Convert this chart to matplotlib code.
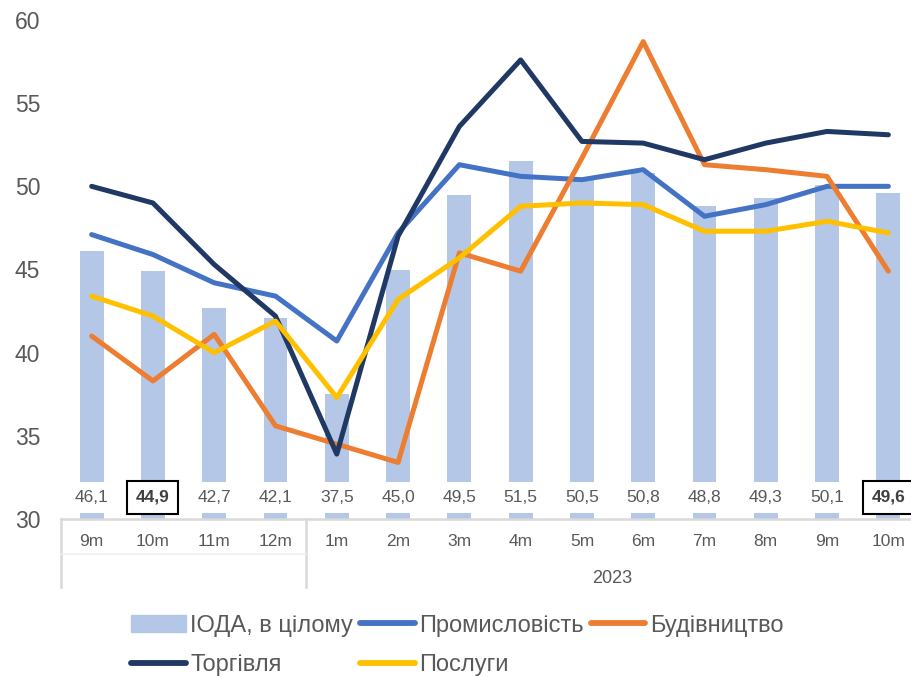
import matplotlib
matplotlib.use("Agg")
import matplotlib.pyplot as plt
from matplotlib.lines import Line2D
from matplotlib.patches import Patch
import matplotlib.transforms as mtransforms

plt.rcParams['font.family'] = ['Liberation Sans', 'DejaVu Sans']

# data
months = ['9m', '10m', '11m', '12m', '1m', '2m', '3m', '4m', '5m', '6m', '7m', '8m', '9m', '10m']
year_label = '2023'
ioda = [46.1, 44.9, 42.7, 42.1, 37.5, 45.0, 49.5, 51.5, 50.5, 50.8, 48.8, 49.3, 50.1, 49.6]
industry = [47.1, 45.9, 44.2, 43.4, 40.7, 47.2, 51.3, 50.6, 50.4, 51.0, 48.2, 48.9, 50.0, 50.0]
construction = [41.0, 38.3, 41.1, 35.6, 34.5, 33.4, 46.0, 44.9, 51.7, 58.7, 51.3, 51.0, 50.6, 44.9]
trade = [50.0, 49.0, 45.3, 42.2, 33.9, 47.0, 53.6, 57.6, 52.7, 52.6, 51.6, 52.6, 53.3, 53.1]
services = [43.4, 42.2, 40.0, 41.9, 37.3, 43.2, 45.7, 48.8, 49.0, 48.9, 47.3, 47.3, 47.9, 47.2]
highlight = [1, 13]

grey = '#595959'
fig = plt.figure(figsize=(9.12, 6.77), dpi=100)
ax = fig.add_axes([61 / 912, 1 - 519 / 677, 858 / 912, 499 / 677])

x = list(range(len(months)))
ax.bar(x, ioda, width=0.39, color='#B4C7E7', zorder=1)

lw = 3.6
ax.plot(x, industry, color='#4472C4', lw=lw, solid_joinstyle='round', solid_capstyle='round', zorder=3)
ax.plot(x, construction, color='#ED7D31', lw=lw, solid_joinstyle='round', solid_capstyle='round', zorder=3)
ax.plot(x, trade, color='#203864', lw=lw, solid_joinstyle='round', solid_capstyle='round', zorder=3)
ax.plot(x, services, color='#FFC000', lw=lw, solid_joinstyle='round', solid_capstyle='round', zorder=3)

# value labels at the bottom of the bars
for i, v in enumerate(ioda):
    txt = f'{v:.1f}'.replace('.', ',')
    if i in highlight:
        ax.text(i, 31.3, txt, ha='center', va='center', fontsize=12.5, color='#404040',
                fontweight='bold', zorder=5,
                bbox=dict(boxstyle='square,pad=0.5', fc='white', ec='black', lw=1.5))
    else:
        ax.text(i, 31.3, txt, ha='center', va='center', fontsize=12.5, color=grey, zorder=5,
                bbox=dict(boxstyle='square,pad=0.45', fc='white', ec='none'))

ax.set_xlim(-0.5, 13.5)
ax.set_ylim(30, 60)
ax.set_yticks(range(30, 61, 5))
ax.tick_params(axis='y', length=0, pad=15, labelsize=16.5, labelcolor=grey)
ax.set_xticks(x)
ax.set_xticklabels(months)
ax.tick_params(axis='x', length=0, pad=11, labelsize=12.5, labelcolor=grey)

for s in ['top', 'right', 'left']:
    ax.spines[s].set_visible(False)
ax.spines['bottom'].set_color('#D9D9D9')
ax.spines['bottom'].set_linewidth(1.8)

# two-level category axis separators
trans = mtransforms.blended_transform_factory(ax.transData, ax.transAxes)
for xv in [-0.5, 3.5]:
    ax.add_line(Line2D([xv, xv], [0, -0.136], transform=trans, color='#D9D9D9', lw=1.8, clip_on=False))
ax.add_line(Line2D([-0.5, 3.5], [-0.0701, -0.0701], transform=trans, color='#F0F0F0', lw=1.2, clip_on=False))
ax.text(8.5, -0.119, year_label, transform=trans, ha='center', va='center', fontsize=13, color=grey)

# legend: order so that column-wise filling reads row by row
h_ioda = Patch(color='#B4C7E7')
h_ind = Line2D([], [], color='#4472C4', lw=4.2, solid_capstyle='round')
h_con = Line2D([], [], color='#ED7D31', lw=4.2, solid_capstyle='round')
h_tr = Line2D([], [], color='#203864', lw=4.2, solid_capstyle='round')
h_srv = Line2D([], [], color='#FFC000', lw=4.2, solid_capstyle='round')
handles = [h_ioda, h_tr, h_ind, h_srv, h_con]
labels = ['ІОДА, в цілому', 'Торгівля', 'Промисловість', 'Послуги', 'Будівництво']
leg = fig.legend(handles, labels, ncol=3, loc='upper left', bbox_to_anchor=(0.144, 0.092),
                 frameon=False, fontsize=17, handlelength=2.3, handleheight=0.7,
                 handletextpad=0.2, columnspacing=0.3, labelspacing=0.75, borderpad=0,
                 borderaxespad=0)
for t in leg.get_texts():
    t.set_color(grey)

fig.savefig('out.png', dpi=100)
